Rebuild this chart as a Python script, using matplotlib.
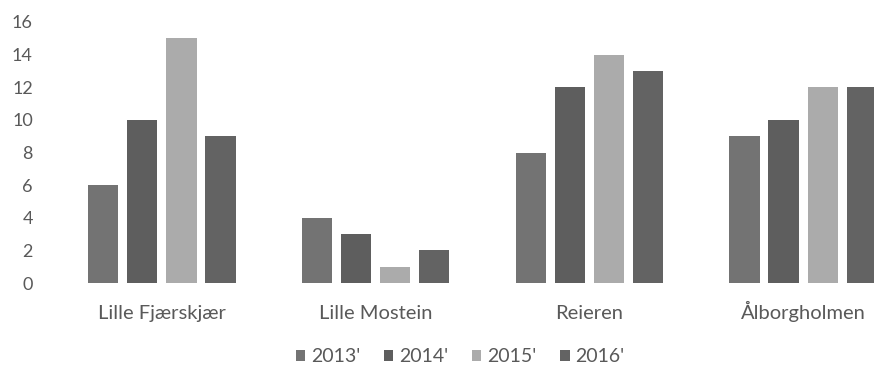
import numpy as np
import matplotlib
matplotlib.use("Agg")
import matplotlib.pyplot as plt

plt.rcParams['font.family'] = ['Lato', 'DejaVu Sans']

sites = ['Lille Fjærskjær', 'Lille Mostein', 'Reieren', 'Ålborgholmen']
years = ["2013'", "2014'", "2015'", "2016'"]
v2013 = [6, 4, 8, 9]
v2014 = [10, 3, 12, 10]
v2015 = [15, 1, 14, 12]
v2016 = [9, 2, 13, 12]

series = [v2013, v2014, v2015, v2016]
colors = ['#737373', '#5e5e5e', '#ababab', '#636363']
txt = '#595959'

fig = plt.figure(figsize=(8.74, 3.76), dpi=100)
# axes run past the right edge, so the last group is cut off
ax = fig.add_axes([55 / 874, 93 / 376, 855 / 874, 261 / 376])

x = np.arange(len(sites))
step = 0.183
width = 0.142
for i, (vals, c) in enumerate(zip(series, colors)):
    ax.bar(x + (i - 1.5) * step, vals, width, color=c, label=years[i])

ax.set_xlim(-0.5, len(sites) - 0.5)
ax.set_ylim(0, 16)
ax.set_yticks(range(0, 17, 2))
ax.set_xticks(x)
ax.set_xticklabels(sites, va='baseline')
for s in ax.spines.values():
    s.set_visible(False)
ax.tick_params(axis='both', length=0, colors=txt, labelsize=14.5)
ax.tick_params(axis='y', labelsize=13, pad=16)
ax.tick_params(axis='x', pad=26)

ax.legend(loc='center', bbox_to_anchor=(460 / 874, 19 / 376), bbox_transform=fig.transFigure,
          ncol=4, frameon=False, fontsize=14, handlelength=0.5, handleheight=0.5,
          handletextpad=0.3, columnspacing=1.2, labelcolor=txt)

fig.savefig('out.png', dpi=100)
